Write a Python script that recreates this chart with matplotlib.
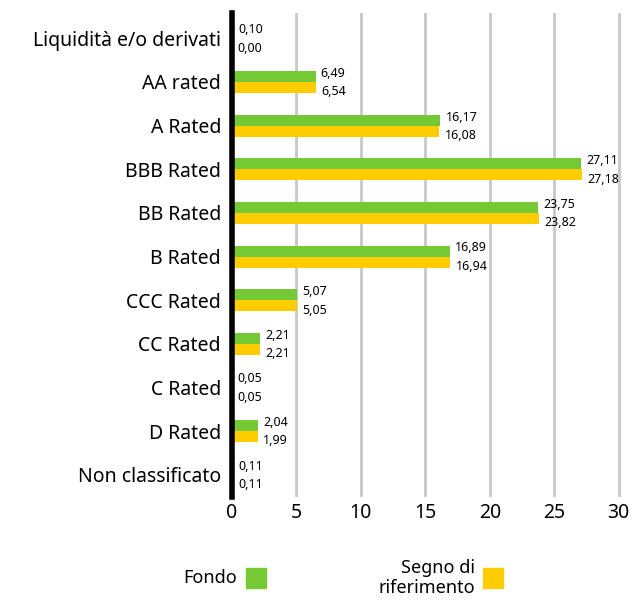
import matplotlib.pyplot as plt
import matplotlib.patches as mpatches
import numpy as np

plt.rcParams['font.family'] = ['Noto Sans', 'DejaVu Sans']

categories = ["Liquidità e/o derivati", "AA rated", "A Rated", "BBB Rated", "BB Rated",
              "B Rated", "CCC Rated", "CC Rated", "C Rated", "D Rated", "Non classificato"]
fondo = [0.10, 6.49, 16.17, 27.11, 23.75, 16.89, 5.07, 2.21, 0.05, 2.04, 0.11]
riferimento = [0.00, 6.54, 16.08, 27.18, 23.82, 16.94, 5.05, 2.21, 0.05, 1.99, 0.11]

green = '#74C934'
yellow = '#FFCC00'


def fmt(v):
    return f"{v:.2f}".replace('.', ',')


fig = plt.figure(figsize=(6.35, 6.01), dpi=100)
ax = fig.add_axes([232 / 635, 1 - 497 / 601, 0.615, (497 - 13) / 601])

y = np.arange(len(categories))
h = 0.252
ax.barh(y - h / 2, fondo, height=h, color=green, zorder=3)
ax.barh(y + h / 2, riferimento, height=h, color=yellow, zorder=3)

# value labels
for i in range(len(categories)):
    ax.text(fondo[i] + 0.4, y[i] - h / 2 - 0.07, fmt(fondo[i]), va='center', ha='left', fontsize=9)
    ax.text(riferimento[i] + 0.4, y[i] + h / 2 + 0.1, fmt(riferimento[i]), va='center', ha='left', fontsize=9)

ax.set_xlim(0, 30.3)
ax.set_ylim(10.51, -0.58)
ax.set_xticks(range(0, 31, 5))
ax.set_yticks(y)
ax.set_yticklabels(categories, fontsize=14)
ax.tick_params(axis='x', labelsize=14, length=0, pad=4)
ax.tick_params(axis='y', length=0, pad=8)
ax.xaxis.grid(True, color='#c8c8c8', linewidth=2, zorder=0)
for s in ['top', 'right', 'bottom']:
    ax.spines[s].set_visible(False)
ax.spines['left'].set_linewidth(4)
ax.spines['left'].set_color('black')
ax.spines['left'].set_zorder(5)

# legend
fig.text(237 / 635, 1 - 578 / 601, "Fondo", ha='right', va='center', fontsize=13)
fig.patches.append(mpatches.Rectangle((246 / 635, 1 - 588 / 601), 20 / 635, 20 / 601,
                                      transform=fig.transFigure, color=green))
fig.text(475 / 635, 1 - 578 / 601, "Segno di\nriferimento", ha='right', va='center', fontsize=13,
         multialignment='right', linespacing=1.2)
fig.patches.append(mpatches.Rectangle((483 / 635, 1 - 588 / 601), 20 / 635, 20 / 601,
                                      transform=fig.transFigure, color=yellow))

fig.savefig('out.png', dpi=100)
